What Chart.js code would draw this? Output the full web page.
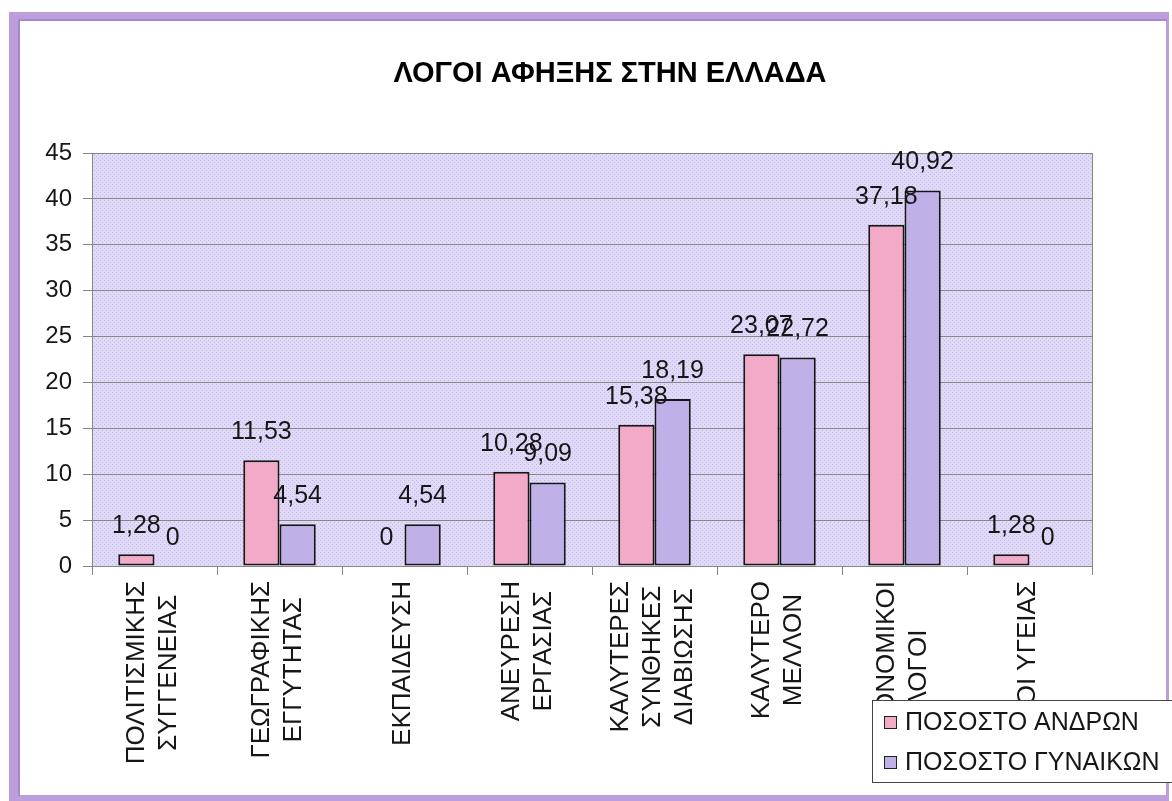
<!DOCTYPE html>
<html>
<head>
<meta charset="utf-8">
<title>ΛΟΓΟΙ ΑΦΗΞΗΣ ΣΤΗΝ ΕΛΛΑΔΑ</title>
<script src="https://cdn.jsdelivr.net/npm/chart.js@4.4.0/dist/chart.umd.min.js"></script>
<style>
  html, body { margin: 0; padding: 0; background: #fff; }
  #wrap { position: relative; width: 1172px; height: 801px; }
</style>
</head>
<body>
<div id="wrap"><canvas id="chart"></canvas></div>
<script>
// --- data ---
const chartTitle = 'ΛΟΓΟΙ ΑΦΗΞΗΣ ΣΤΗΝ ΕΛΛΑΔΑ';
const categories = [
    ['ΠΟΛΙΤΙΣΜΙΚΗΣ', 'ΣΥΓΓΕΝΕΙΑΣ'],
    ['ΓΕΩΓΡΑΦΙΚΗΣ', 'ΕΓΓΥΤΗΤΑΣ'],
    ['ΕΚΠΑΙΔΕΥΣΗ'],
    ['ΑΝΕΥΡΕΣΗ', 'ΕΡΓΑΣΙΑΣ'],
    ['ΚΑΛΥΤΕΡΕΣ', 'ΣΥΝΘΗΚΕΣ', 'ΔΙΑΒΙΩΣΗΣ'],
    ['ΚΑΛΥΤΕΡΟ', 'ΜΕΛΛΟΝ'],
    ['ΟΙΚΟΝΟΜΙΚΟΙ', 'ΛΟΓΟΙ'],
    ['ΛΟΓΟΙ ΥΓΕΙΑΣ']
];
const seriesNames = ['ΠΟΣΟΣΤΟ ΑΝΔΡΩΝ', 'ΠΟΣΟΣΤΟ ΓΥΝΑΙΚΩΝ'];
const menValues = [1.28, 11.53, 0, 10.28, 15.38, 23.07, 37.18, 1.28];
const womenValues = [0, 4.54, 4.54, 9.09, 18.19, 22.72, 40.92, 0];
const yMin = 0;
const yMax = 45;
const yStep = 5;

// --- styles ---
const FONT = "'Liberation Sans', Arial, sans-serif";
const TEXT_COLOR = '#161616';
const GRID_COLOR = '#858585';
const MEN_COLOR = '#f2aac7';
const WOMEN_COLOR = '#bfb1e8';

// decimal comma like the original
const fmt = v => String(v).replace('.', ',');

// dotted lavender fill for the plot area
const makePattern = (ctx) => {
    const c = document.createElement('canvas');
    c.width = 4; c.height = 4;
    const g = c.getContext('2d');
    g.fillStyle = '#e1d9f8';
    g.fillRect(0, 0, 4, 4);
    g.fillStyle = '#c6b7ea';
    g.fillRect(0, 0, 1, 1);
    g.fillRect(2, 2, 1, 1);
    return ctx.createPattern(c, 'repeat');
};

const backgroundPlugin = {
    id: 'background',
    beforeDraw(chart) {
        const ctx = chart.ctx;
        const {left, top, right, bottom} = chart.chartArea;
        ctx.save();
        // page + purple frame
        ctx.fillStyle = '#ffffff';
        ctx.fillRect(0, 0, chart.width, chart.height);
        ctx.fillStyle = '#bd9edc';
        ctx.fillRect(9, 12, 1160, 789);
        ctx.fillStyle = '#ffffff';
        ctx.fillRect(20, 21, 1146, 774);
        ctx.fillStyle = '#a887cc';
        ctx.fillRect(18, 19, 1149, 2);
        ctx.fillRect(18, 19, 2, 777);
        // plot area
        ctx.fillStyle = makePattern(ctx);
        ctx.fillRect(left, top, right - left, bottom - top);
        ctx.restore();
    }
};

const valueLabelPlugin = {
    id: 'valueLabels',
    afterDatasetsDraw(chart) {
        const ctx = chart.ctx;
        ctx.save();
        ctx.font = '25px ' + FONT;
        ctx.fillStyle = TEXT_COLOR;
        ctx.textAlign = 'center';
        ctx.textBaseline = 'middle';
        chart.data.datasets.forEach((ds, di) => {
            chart.getDatasetMeta(di).data.forEach((bar, i) => {
                ctx.fillText(fmt(ds.data[i]), bar.x, bar.y - 28);
            });
        });
        ctx.restore();
    }
};

const decorPlugin = {
    id: 'decor',
    afterDraw(chart) {
        const ctx = chart.ctx;
        const xScale = chart.scales.x;
        const {top, right, bottom} = chart.chartArea;
        ctx.save();

        // plot border (right side)
        ctx.strokeStyle = GRID_COLOR;
        ctx.lineWidth = 1;
        ctx.beginPath();
        ctx.moveTo(right + 0.5, top);
        ctx.lineTo(right + 0.5, bottom + 9);
        ctx.stroke();

        // category labels, vertical, lines centred on each other
        ctx.font = '26px ' + FONT;
        ctx.fillStyle = TEXT_COLOR;
        ctx.textAlign = 'center';
        ctx.textBaseline = 'middle';
        const lineGap = 32;
        chart.data.labels.forEach((lines, i) => {
            const cx = xScale.getPixelForValue(i) - 2;
            const widest = Math.max(...lines.map(l => ctx.measureText(l).width));
            ctx.save();
            ctx.translate(cx, bottom + 15);
            ctx.rotate(-Math.PI / 2);
            lines.forEach((l, j) => {
                ctx.fillText(l, -widest / 2, (j - (lines.length - 1) / 2) * lineGap);
            });
            ctx.restore();
        });

        // title
        ctx.font = 'bold 29px ' + FONT;
        ctx.fillStyle = '#000';
        ctx.fillText(chartTitle, 610, 74);

        // legend box over the lower right corner
        ctx.fillStyle = '#ffffff';
        ctx.fillRect(872, 700, 310, 82);
        ctx.strokeStyle = '#444';
        ctx.strokeRect(872.5, 700.5, 310, 82);
        ctx.font = '25px ' + FONT;
        ctx.textAlign = 'left';
        chart.data.datasets.forEach((ds, di) => {
            const y = 722 + di * 40;
            ctx.fillStyle = ds.backgroundColor;
            ctx.fillRect(884, y - 6, 13, 13);
            ctx.strokeStyle = '#222';
            ctx.strokeRect(884.5, y - 5.5, 12, 12);
            ctx.fillStyle = TEXT_COLOR;
            ctx.fillText(ds.label, 905, y + 1);
        });

        ctx.restore();
    }
};

new Chart(document.getElementById('chart'), {
    type: 'bar',
    data: {
        labels: categories,
        datasets: [
            {
                label: seriesNames[0],
                data: menValues,
                backgroundColor: MEN_COLOR,
                borderColor: '#161616',
                borderWidth: 2,
                borderSkipped: false,
                categoryPercentage: 0.58,
                barPercentage: 1
            },
            {
                label: seriesNames[1],
                data: womenValues,
                backgroundColor: WOMEN_COLOR,
                borderColor: '#161616',
                borderWidth: 2,
                borderSkipped: false,
                categoryPercentage: 0.58,
                barPercentage: 1
            }
        ]
    },
    options: {
        responsive: true,
        maintainAspectRatio: false,
        animation: false,
        layout: { padding: { top: 153, right: 80, bottom: 5, left: 0 } },
        plugins: {
            legend: { display: false },
            title: { display: false },
            tooltip: { enabled: false }
        },
        scales: {
            x: {
                ticks: { display: false },
                grid: { drawOnChartArea: false, drawTicks: true, tickLength: 9, color: GRID_COLOR, offset: true },
                border: { color: GRID_COLOR },
                afterFit: s => { s.height = 230; }
            },
            y: {
                min: yMin,
                max: yMax,
                ticks: {
                    stepSize: yStep,
                    padding: 11,
                    color: TEXT_COLOR,
                    font: { family: FONT, size: 24 }
                },
                grid: { color: GRID_COLOR, tickLength: 9 },
                border: { color: GRID_COLOR },
                afterFit: s => { s.width = 92; }
            }
        }
    },
    plugins: [backgroundPlugin, valueLabelPlugin, decorPlugin]
});
</script>
</body>
</html>
